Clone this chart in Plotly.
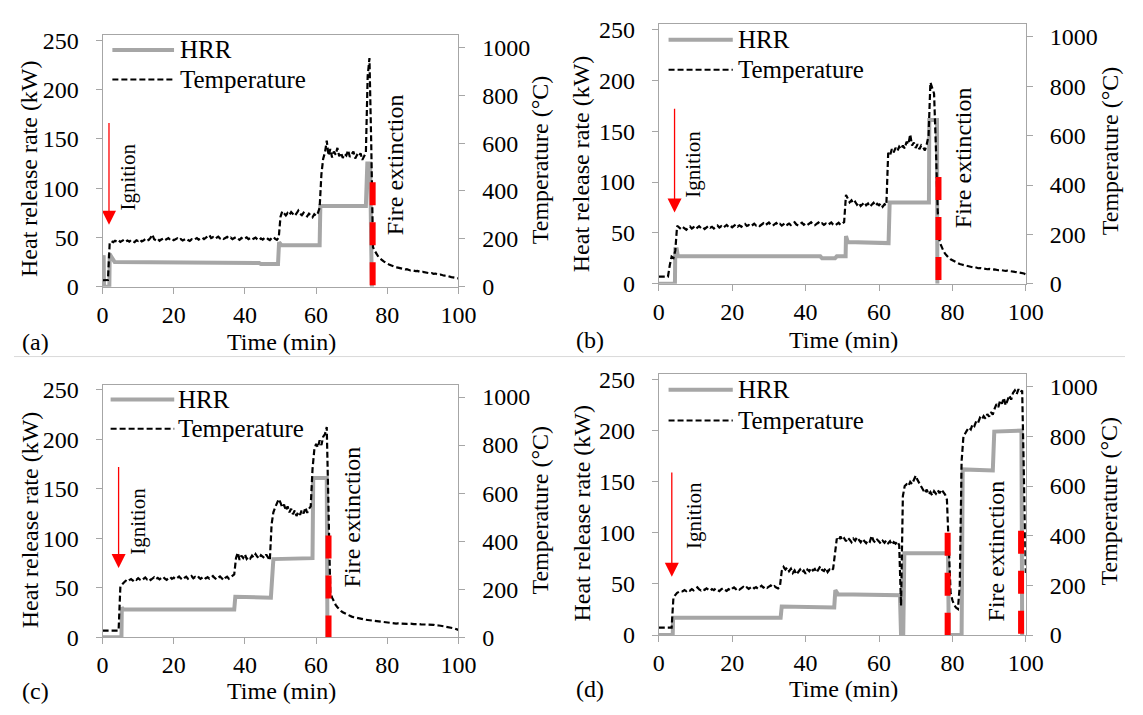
import plotly.graph_objects as go

W, H = 1143, 715          # browser window
PAGE_MARGIN = 8           # default <body> margin of the written page
FW, FH = W - PAGE_MARGIN, H - PAGE_MARGIN
SERIF = "'Liberation Serif', 'Times New Roman', Times, 'DejaVu Serif', serif"
HRR_COLOR = "#A6A6A6"
AXIS_COLOR = "#A6A6A6"
RED = "#FF0000"

# ---------------- data ----------------
X_TICKS = [0, 20, 40, 60, 80, 100]
HRR_TICKS = [0, 50, 100, 150, 200, 250]
TEMP_TICKS = [0, 200, 400, 600, 800, 1000]
PANEL_LABELS = ["(a)", "(b)", "(c)", "(d)"]

TEMP_STEP_MIN = 0.5  # logging interval of the temperature records

# HRR step records (time in min, kW)
hrr_a_time = [0, 0.1, 0.3, 0.4, 1.9, 2.0, 2.6, 3.4, 44, 44.5, 49.3, 49.6, 50.3, 61.0, 61.2, 74.0, 74.4, 75.2, 75.5, 75.7]
hrr_a_kw = [0, 32, 32, 0, 0, 33, 29, 25, 24, 23, 23, 45, 42, 42, 82, 82, 125, 125, 40, 0]

hrr_b_time = [0, 4.4, 4.5, 4.9, 5.2, 44, 44.5, 48, 48.5, 50.9, 51.0, 51.5, 62.6, 62.9, 73.6, 73.7, 75.8, 75.9]
hrr_b_kw = [0, 0, 34, 34, 27, 27, 25, 25, 27, 27, 47, 41, 40, 80, 80, 161, 161, 0]

hrr_c_time = [0, 5.3, 5.4, 5.9, 37.0, 37.3, 47.3, 47.6, 48.0, 59.0, 59.2, 63.0, 63.2]
hrr_c_kw = [0, 0, 30, 28, 28, 41, 40, 60, 79, 80, 161, 161, 0]

hrr_d_time = [0, 3.8, 3.9, 33.2, 33.5, 47.8, 48.1, 48.8, 65.7, 66.0, 66.6, 66.9, 78.8, 79.0, 82.5, 82.8, 91.0, 91.4, 98.8, 99.0]
hrr_d_kw = [0, 0, 17, 17, 28, 27, 44, 40, 39, 0, 0, 80, 80, 0, 0, 162, 161, 199, 200, 0]

# Temperature records (deg C), one value every 0.5 min from 0 to 100 min
temp_a = [
    27, 27, 27, 28, 183, 190, 186, 192, 188, 194, 187, 191, 196, 189, 193, 188, 195, 190, 186, 194,
    191, 197, 189, 193, 199, 192, 196, 205, 218, 198, 194, 200, 192, 197, 201, 194, 199, 203, 196, 200,
    194, 198, 202, 195, 199, 193, 197, 201, 195, 191, 198, 194, 199, 203, 197, 201, 205, 199, 204, 210,
    216, 203, 207, 200, 205, 209, 202, 206, 200, 204, 208, 201, 205, 199, 203, 207, 201, 196, 204, 198,
    202, 206, 199, 203, 197, 201, 205, 198, 194, 202, 197, 203, 206, 199, 195, 203, 208, 200, 196, 205,
    292, 315, 305, 298, 308, 300, 312, 303, 296, 306, 318, 305, 299, 309, 301, 294, 305, 298, 290, 303,
    296, 308, 330, 470, 535, 560, 610, 548, 575, 540, 565, 552, 580, 545, 560, 538, 555, 548, 570, 542,
    553, 565, 536, 550, 543, 558, 530, 545, 560, 880, 955, 600, 165, 150, 135, 125, 118, 110, 106, 101,
    96, 93, 90, 86, 84, 81, 80, 78, 75, 74, 72, 73, 70, 68, 69, 66, 65, 66, 63, 61,
    62, 60, 58, 59, 56, 57, 54, 55, 52, 50, 51, 48, 46, 47, 44, 42, 40, 39, 37, 36,
    35,
]
temp_b = [
    29, 29, 29, 29, 29, 29, 75, 110, 105, 135, 235, 228, 222, 230, 225, 219, 227, 232, 224, 229,
    221, 227, 233, 226, 230, 222, 228, 234, 227, 231, 224, 230, 236, 228, 233, 226, 232, 238, 230, 235,
    229, 234, 240, 232, 237, 231, 236, 242, 234, 238, 232, 237, 243, 236, 240, 234, 239, 245, 237, 242,
    248, 239, 235, 241, 246, 238, 243, 236, 241, 247, 239, 244, 238, 243, 249, 240, 236, 242, 247, 239,
    244, 238, 243, 249, 241, 237, 243, 248, 240, 245, 239, 244, 238, 243, 248, 240, 236, 242, 247, 239,
    244, 250, 360, 345, 330, 338, 325, 332, 320, 328, 315, 322, 330, 318, 325, 312, 320, 328, 316, 324,
    318, 326, 312, 322, 318, 530, 520, 545, 532, 550, 538, 555, 545, 560, 548, 575, 565, 605, 560, 572,
    550, 565, 545, 560, 552, 540, 565, 600, 815, 790, 770, 550, 290, 170, 150, 135, 122, 112, 105, 99,
    95, 90, 87, 84, 80, 78, 76, 74, 72, 70, 69, 67, 68, 65, 63, 64, 62, 60, 61, 59,
    60, 58, 57, 58, 56, 55, 56, 54, 53, 52, 53, 51, 50, 49, 48, 47, 46, 45, 44, 42,
    38,
]
temp_c = [
    28, 28, 28, 28, 28, 28, 28, 28, 28, 28, 212, 222, 228, 235, 231, 238, 242, 236, 244, 239,
    246, 240, 236, 243, 249, 241, 246, 238, 244, 250, 242, 247, 241, 246, 252, 244, 239, 246, 251, 243,
    248, 242, 247, 253, 245, 240, 247, 252, 244, 249, 255, 246, 251, 245, 250, 243, 248, 253, 245, 250,
    244, 249, 255, 247, 241, 248, 253, 246, 238, 247, 252, 244, 249, 255, 262, 330, 352, 322, 340, 330,
    345, 326, 335, 328, 340, 332, 346, 335, 328, 342, 336, 330, 344, 333, 320, 470, 520, 540, 555, 575,
    560, 540, 552, 528, 545, 520, 535, 512, 528, 505, 522, 510, 530, 515, 540, 518, 535, 545, 700, 780,
    805, 790, 820, 800, 835, 845, 875, 520, 185, 165, 148, 135, 125, 116, 110, 104, 100, 96, 92, 89,
    86, 84, 82, 80, 78, 77, 76, 74, 73, 72, 71, 70, 68, 67, 66, 65, 64, 63, 62, 61,
    60, 59, 60, 58, 59, 57, 58, 57, 58, 56, 57, 56, 57, 55, 56, 55, 56, 54, 55, 54,
    54, 53, 54, 52, 53, 51, 52, 50, 51, 49, 48, 47, 46, 45, 43, 42, 40, 38, 36, 34,
    31,
]
temp_d = [
    30, 30, 30, 30, 30, 30, 30, 30, 152, 162, 170, 174, 178, 176, 181, 177, 183, 179, 185, 180,
    187, 192, 184, 180, 186, 182, 188, 183, 178, 185, 181, 187, 182, 177, 184, 189, 182, 178, 185, 180,
    187, 192, 185, 190, 183, 189, 194, 187, 192, 186, 191, 196, 188, 193, 187, 194, 199, 191, 196, 190,
    195, 200, 192, 197, 191, 188, 195, 258, 274, 264, 272, 257, 267, 250, 260, 244, 254, 264, 252, 260,
    247, 264, 257, 270, 260, 266, 252, 264, 277, 262, 258, 270, 254, 264, 258, 267, 335, 388, 380, 397,
    382, 390, 378, 392, 384, 374, 388, 380, 394, 382, 374, 387, 378, 370, 382, 376, 400, 380, 372, 384,
    377, 368, 380, 372, 382, 370, 378, 364, 374, 368, 377, 362, 118, 560, 600, 607, 600, 617, 608, 627,
    642, 624, 610, 596, 582, 572, 586, 566, 576, 562, 579, 569, 583, 571, 586, 573, 566, 545, 330, 170,
    140, 120, 110, 105, 200, 700, 800, 815, 825, 836, 828, 850, 842, 862, 855, 875, 868, 882, 872, 890,
    880, 898, 888, 912, 930, 918, 945, 932, 955, 925, 950, 965, 948, 975, 985, 970, 990, 978, 985, 560,
    250,
]

# Event markers (time in min, heights in kW)
ignition_time = [1.8, 4.3, 4.5, 3.55]
ignition_top_kw = [166, 172, 172, 159]
ignition_tip_kw = [63, 70, 70, 57]
extinction_time = [[75.9], [76.2], [63.5], [78.7, 98.7]]
extinction_top_kw = [[106], [105], [103], [100, 102]]

hrr_time = [hrr_a_time, hrr_b_time, hrr_c_time, hrr_d_time]
hrr_kw = [hrr_a_kw, hrr_b_kw, hrr_c_kw, hrr_d_kw]
temps = [temp_a, temp_b, temp_c, temp_d]

# ---------------- layout geometry (window pixels) ----------------
boxes = [
    (98.5, 462.0, 28.0, 287.0),
    (666.7, 1041.7, 16.7, 284.0),
    (98.5, 462.0, 388.3, 648.3),
    (666.7, 1041.7, 377.3, 646.0),
]
HRR_RANGE = [0, 255]
TEMP_RANGE = [0, 1050]

left_title_pos = [(24, 165), (588, 160), (24, 527), (588, 520)]
right_title_pos = [(545, 156), (1128, 147), (545, 517), (1127, 508)]
time_title_pos = [(281, 343.5), (855, 341.5), (281, 703.5), (855, 701.5)]
panel_label_pos = [(30, 343.5), (596, 341.5), (30, 703.5), (596, 701.5)]
ignition_text_pos = [(125, 174), (702, 161), (134, 529), (702, 523)]
fire_text_pos = [(398, 161), (977, 154), (353, 524), (1011, 559)]
legend_pos = [  # x_line_start, x_line_end, y_hrr, y_temp, x_text
    (108.5, 171.5, 43, 73.5, 176),
    (676.7, 742.3, 32.5, 63.5, 746),
    (106.7, 171.7, 403.3, 433.5, 174),
    (676.7, 742.3, 393.3, 425, 746),
]

def px(x):
    return (x - PAGE_MARGIN) / FW

def py(y):
    return 1 - (y - PAGE_MARGIN) / FH

fig = go.Figure()
layout = dict(
    width=FW, height=FH, autosize=False,
    margin=dict(l=0, r=0, t=0, b=0),
    paper_bgcolor="white", plot_bgcolor="white",
    showlegend=False,
    font=dict(family=SERIF, size=24, color="black"),
)
annotations = []
shapes = []

def ann(text, pos, size=24, angle=0, xanchor="center"):
    annotations.append(dict(text=text, x=px(pos[0]), y=py(pos[1]), xref="paper", yref="paper",
                            showarrow=False, textangle=angle, xanchor=xanchor, yanchor="middle",
                            font=dict(family=SERIF, size=size, color="black")))

for i in range(4):
    xl, xr, yt, yb = boxes[i]
    xa = "x" if i == 0 else f"x{i+1}"
    ya_l = "y" if i == 0 else f"y{2*i+1}"
    ya_r = f"y{2*i+2}"
    xkey = "xaxis" if i == 0 else f"xaxis{i+1}"
    ylkey = "yaxis" if i == 0 else f"yaxis{2*i+1}"
    yrkey = f"yaxis{2*i+2}"

    common = dict(showgrid=False, zeroline=False, showline=True, linecolor=AXIS_COLOR,
                  linewidth=1, ticks="outside", ticklen=6, tickcolor=AXIS_COLOR, tickwidth=1,
                  tickfont=dict(family=SERIF, size=24, color="black"))
    layout[xkey] = dict(common, domain=[px(xl), px(xr)], anchor=ya_l, range=[0, 100],
                        tickvals=X_TICKS, mirror=True, ticklabelstandoff=0)
    layout[ylkey] = dict(common, domain=[py(yb), py(yt)], anchor=xa, range=HRR_RANGE,
                         tickvals=HRR_TICKS, ticklabelstandoff=12)
    layout[yrkey] = dict(common, overlaying=ya_l, anchor=xa, side="right", range=TEMP_RANGE,
                         tickvals=TEMP_TICKS, ticklabelstandoff=12)

    # HRR
    fig.add_trace(go.Scatter(x=hrr_time[i], y=hrr_kw[i], mode="lines",
                             line=dict(color=HRR_COLOR, width=4), xaxis=xa, yaxis=ya_l,
                             name="HRR", hoverinfo="skip"))
    # ignition arrow
    fig.add_trace(go.Scatter(x=[ignition_time[i], ignition_time[i]],
                             y=[ignition_top_kw[i], ignition_tip_kw[i] + 6], mode="lines",
                             line=dict(color=RED, width=1.3), xaxis=xa, yaxis=ya_l, hoverinfo="skip"))
    fig.add_trace(go.Scatter(x=[ignition_time[i]], y=[ignition_tip_kw[i]], mode="markers",
                             marker=dict(symbol="arrow-down", size=14, color=RED, line=dict(width=0)),
                             xaxis=xa, yaxis=ya_l, hoverinfo="skip"))
    # temperature
    t_time = [k * TEMP_STEP_MIN for k in range(len(temps[i]))]
    fig.add_trace(go.Scatter(x=t_time, y=temps[i], mode="lines",
                             line=dict(color="black", width=2.2, dash="6px,3px"),
                             xaxis=xa, yaxis=ya_r, name="Temperature", hoverinfo="skip"))
    # fire extinction markers
    for et, top in zip(extinction_time[i], extinction_top_kw[i]):
        shapes.append(dict(type="line", xref=xa, yref=ya_l, x0=et, x1=et, y0=top, y1=0,
                           line=dict(color=RED, width=6, dash="23px,17px"), layer="above"))

    ann("Heat release rate (kW)", left_title_pos[i], 24, -90)
    ann("Temperature (°C)", right_title_pos[i], 24, -90)
    ann("Time (min)", time_title_pos[i], 24)
    ann(PANEL_LABELS[i], panel_label_pos[i], 24)
    ann("Ignition", ignition_text_pos[i], 21, -90)
    ann("Fire extinction", fire_text_pos[i], 24, -90)

    lx0, lx1, ly_h, ly_t, ltx = legend_pos[i]
    shapes.append(dict(type="line", xref="paper", yref="paper", x0=px(lx0), x1=px(lx1),
                       y0=py(ly_h), y1=py(ly_h), line=dict(color=HRR_COLOR, width=4)))
    shapes.append(dict(type="line", xref="paper", yref="paper", x0=px(lx0), x1=px(lx1),
                       y0=py(ly_t), y1=py(ly_t), line=dict(color="black", width=2, dash="6px,3px")))
    ann("HRR", (ltx, ly_h), 25, 0, "left")
    ann("Temperature", (ltx, ly_t), 25, 0, "left")

# separator between the rows of panels
shapes.append(dict(type="line", xref="paper", yref="paper", x0=0, x1=1, y0=py(359), y1=py(359),
                   line=dict(color="#D9D9D9", width=1)))

layout["annotations"] = annotations
layout["shapes"] = shapes
fig.update_layout(**layout)
fig.write_html("out.html")
